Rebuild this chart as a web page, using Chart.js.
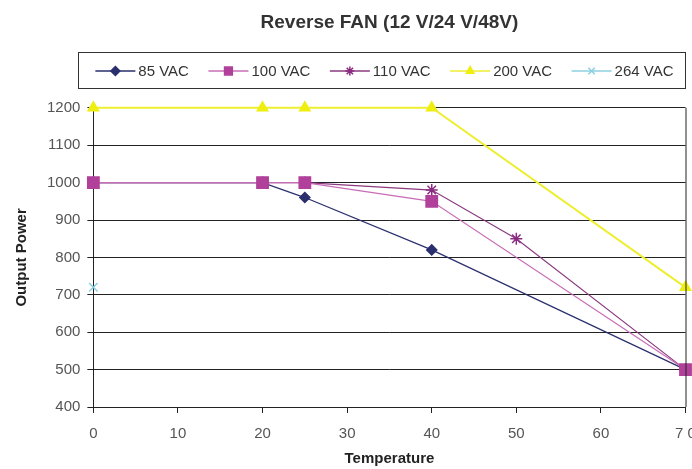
<!DOCTYPE html>
<html lang="en">
<head>
<meta charset="UTF-8">
<title>Reverse FAN</title>
<script src="https://cdn.jsdelivr.net/npm/chart.js"></script>
<style>
  html, body { margin: 0; padding: 0; background: #fff; overflow: hidden; }
  #wrap { width: 695px; height: 469px; }
</style>
</head>
<body>
<div id="wrap"><canvas id="grafico"></canvas></div>
<script>
// datos
const seriesNames = ['85 VAC', '100 VAC', '110 VAC', '200 VAC', '264 VAC'];
const temps85 = [0, 20, 25, 40, 70];
const power85 = [1000, 1000, 960, 820, 500];
const temps100 = [0, 20, 25, 40, 70];
const power100 = [1000, 1000, 1000, 950, 500];
const temps110 = [0, 20, 25, 40, 50, 70];
const power110 = [1000, 1000, 1000, 980, 850, 500];
const temps200 = [0, 20, 25, 40, 70];
const power200 = [1200, 1200, 1200, 1200, 720];
const temps264 = [0];
const power264 = [720];
const xTickLabels = ['0', '10', '20', '30', '40', '50', '60', '7 0'];
const yTicks = [400, 500, 600, 700, 800, 900, 1000, 1100, 1200];

const FUENTE = '"Liberation Sans", Arial, sans-serif';
const toPoints = (xs, ys) => xs.map((x, i) => ({ x: x, y: ys[i] }));

const estilos = [
  { line: '#2a2f6e', fill: '#2a2f6e', stroke: '#2a2f6e', style: 'rectRot', r: 5, w: 1.2, orden: 3 },
  { line: '#c86cb6', fill: '#b0409a', stroke: '#b0409a', style: 'rect', r: 8, w: 1.2, orden: 1 },
  { line: '#8b3a80', fill: '#8b2a80', stroke: '#8b2a80', style: 'star', r: 6, w: 1.2, orden: 2 },
  { line: '#eeee30', fill: '#eeee10', stroke: '#eeee10', style: 'triangle', r: 6, w: 2, orden: 4 },
  { line: '#8ccfe0', fill: '#8ccfe0', stroke: '#8ccfe0', style: 'crossRot', r: 6, w: 1.2, orden: 4 }
];
const datos = [
  toPoints(temps85, power85),
  toPoints(temps100, power100),
  toPoints(temps110, power110),
  toPoints(temps200, power200),
  toPoints(temps264, power264)
];

const datasets = seriesNames.map((name, i) => ({
  label: name,
  data: datos[i],
  order: estilos[i].orden,
  borderColor: estilos[i].line,
  borderWidth: estilos[i].w,
  backgroundColor: estilos[i].fill,
  pointBackgroundColor: estilos[i].fill,
  pointBorderColor: estilos[i].stroke,
  pointBorderWidth: 1.5,
  pointStyle: estilos[i].style,
  pointRadius: estilos[i].r,
  showLine: true,
  tension: 0,
  clip: false
}));

// leyenda dibujada a mano dentro de un recuadro
const leyenda = {
  id: 'leyenda',
  afterDraw(chart) {
    const ctx = chart.ctx;
    const a = chart.chartArea;
    const cy = 71;
    ctx.save();
    // marco derecho del area
    ctx.strokeStyle = '#222';
    ctx.lineWidth = 1;
    ctx.beginPath();
    ctx.moveTo(a.right + 0.5, a.top);
    ctx.lineTo(a.right + 0.5, a.bottom);
    ctx.stroke();
    // recuadro
    ctx.strokeStyle = '#333';
    ctx.strokeRect(Math.round(a.left - 15) + 0.5, 52.5, Math.round(a.right - a.left + 15), 36);

    ctx.font = '15px ' + FUENTE;
    ctx.textBaseline = 'middle';
    const anchos = seriesNames.map(n => ctx.measureText(n).width);
    const inicio = a.left + 2, fin = a.right - 12;
    const gap = (fin - inicio - 5 * 43 - anchos.reduce((s, w) => s + w, 0)) / 4;
    let x = inicio;
    chart.data.datasets.forEach((ds, i) => {
      const e = estilos[i];
      ctx.strokeStyle = e.line;
      ctx.lineWidth = 1.5;
      ctx.beginPath(); ctx.moveTo(x, cy); ctx.lineTo(x + 40, cy); ctx.stroke();
      ctx.fillStyle = e.fill;
      ctx.strokeStyle = e.stroke;
      Chart.helpers.drawPoint(ctx, { pointStyle: e.style, radius: e.style === 'rect' ? 5.5 : 4.5, rotation: 0, borderWidth: 1.5 }, x + 20, cy);
      ctx.fillStyle = '#333';
      ctx.fillText(ds.label, x + 43, cy + 1);
      x += 43 + anchos[i] + gap;
    });
    ctx.restore();
  }
};

const ctx = document.getElementById('grafico').getContext('2d');
const grafico = new Chart(ctx, {
  type: 'scatter',
  data: { datasets: datasets },
  plugins: [leyenda],
  options: {
    responsive: true,
    maintainAspectRatio: false,
    animation: false,
    layout: { padding: { left: 13, right: 0, top: 0, bottom: 3 } },
    plugins: {
      tooltip: { enabled: false },
      legend: { display: false },
      title: {
        display: true,
        text: 'Reverse FAN (12 V/24 V/48V)',
        fullSize: false,
        color: '#333',
        font: { family: FUENTE, size: 19, weight: 'bold' },
        padding: { top: 11, bottom: 74 }
      }
    },
    scales: {
      x: {
        type: 'linear',
        min: 0,
        max: 70,
        afterBuildTicks: (axis) => { axis.ticks = xTickLabels.map((t, i) => ({ value: i * 10 })); },
        afterFit: (axis) => { axis.paddingRight = 7; },
        ticks: {
          color: '#555',
          font: { family: FUENTE, size: 15, lineHeight: 1 },
          padding: 13,
          maxRotation: 0,
          callback: (v, i) => xTickLabels[i]
        },
        grid: { drawOnChartArea: false, drawTicks: true, tickLength: 6, color: '#222' },
        border: { color: '#222', width: 1 },
        title: {
          display: true,
          text: 'Temperature',
          color: '#222',
          font: { family: FUENTE, size: 15, weight: 'bold', lineHeight: 1 },
          padding: { top: -3, bottom: 0 }
        }
      },
      y: {
        min: 400,
        max: 1200,
        afterBuildTicks: (axis) => { axis.ticks = yTicks.map(v => ({ value: v })); },
        ticks: {
          color: '#555',
          font: { family: FUENTE, size: 15 },
          padding: 7,
          callback: (v) => String(v)
        },
        grid: { color: '#222', lineWidth: 1, tickLength: 6 },
        border: { color: '#222', width: 1 },
        title: {
          display: true,
          text: 'Output Power',
          color: '#222',
          font: { family: FUENTE, size: 15, weight: 'bold' },
          padding: { top: 0, bottom: 9 }
        }
      }
    }
  }
});
</script>
</body>
</html>
